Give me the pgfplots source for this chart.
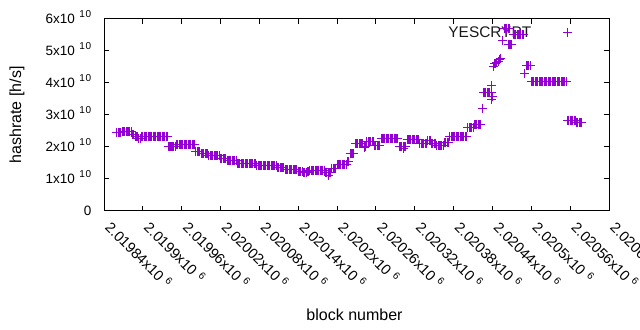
\documentclass[border=0pt]{standalone}
\usepackage{fontspec}
\setmainfont{Liberation Sans}
\usepackage{pgfplots}
\pgfplotsset{compat=1.18}
\definecolor{dv}{RGB}{148,0,211}
\newcommand{\ylab}[1]{\fontsize{13.5bp}{16bp}\selectfont #1x10\hspace{4.5bp}\raisebox{6.3bp}{\fontsize{10bp}{10bp}\selectfont 1\kern0.8bp 0}}
\newcommand{\xlab}[1]{\hspace*{12.5bp}\fontsize{14.5bp}{16bp}\selectfont #1x10\hspace{4.5bp}\raisebox{5bp}{\fontsize{10bp}{10bp}\selectfont 6}}
\tikzset{xl/.style={rotate=-45, anchor=north west, inner sep=0pt}, yl/.style={anchor=base east, inner sep=0pt, xshift=-12.5bp, yshift=-4.85bp}}
\begin{document}
\begin{tikzpicture}
\useasboundingbox (0,0) rectangle (640bp,330bp);
\begin{axis}[
  at={(104bp,119bp)}, anchor=south west,
  scale only axis, width=505bp, height=192bp,
  xmin=840, xmax=1620, ymin=0, ymax=6e10,
  xtick={840,900,...,1620},
  ytick={0,1e10,2e10,3e10,4e10,5e10,6e10},
  xticklabel=\empty, yticklabel=\empty,
  scaled y ticks=false, scaled x ticks=false,
  tick align=inside, tick pos=both,
  major tick length=5bp,
  axis line style={line width=1bp, black},
  every tick/.style={line width=1bp, black},
  xlabel={block number}, ylabel={hashrate [h/s]},
  every axis x label/.style={at={(axis description cs:0.5,0)}, yshift=-104bp, xshift=-2bp, anchor=center, font=\fontsize{16bp}{18bp}\selectfont},
  every axis y label/.style={at={(axis description cs:0,0.5)}, xshift=-87bp, rotate=90, anchor=center, font=\fontsize{16bp}{18bp}\selectfont},
  clip=false,
]
\node[font=\fontsize{15.4bp}{18bp}\selectfont, anchor=center, text=black!90] at (axis description cs:0.764,0.932) {YESCRYPT};
\node[yl] at (axis cs:840,0) {\fontsize{13.5bp}{16bp}\selectfont 0};
\node[yl] at (axis cs:840,1e10) {\ylab{1}};
\node[yl] at (axis cs:840,2e10) {\ylab{2}};
\node[yl] at (axis cs:840,3e10) {\ylab{3}};
\node[yl] at (axis cs:840,4e10) {\ylab{4}};
\node[yl] at (axis cs:840,5e10) {\ylab{5}};
\node[yl] at (axis cs:840,6e10) {\ylab{6}};
\node[xl] at (axis cs:840,0) {\xlab{2.01984}};
\node[xl] at (axis cs:900,0) {\xlab{2.0199}};
\node[xl] at (axis cs:960,0) {\xlab{2.01996}};
\node[xl] at (axis cs:1020,0) {\xlab{2.02002}};
\node[xl] at (axis cs:1080,0) {\xlab{2.02008}};
\node[xl] at (axis cs:1140,0) {\xlab{2.02014}};
\node[xl] at (axis cs:1200,0) {\xlab{2.0202}};
\node[xl] at (axis cs:1260,0) {\xlab{2.02026}};
\node[xl] at (axis cs:1320,0) {\xlab{2.02032}};
\node[xl] at (axis cs:1380,0) {\xlab{2.02038}};
\node[xl] at (axis cs:1440,0) {\xlab{2.02044}};
\node[xl] at (axis cs:1500,0) {\xlab{2.0205}};
\node[xl] at (axis cs:1560,0) {\xlab{2.02056}};
\node[xl] at (axis cs:1620,0) {\xlab{2.02062}};
\addplot[only marks, mark=+, mark size=4.5bp, color=dv, mark options={line width=1bp}] table[row sep=\\] {
x y\\
860 2.46e10\\ 862 2.46e10\\ 864 2.46e10\\ 866 2.46e10\\
868 2.49e10\\ 870 2.49e10\\ 872 2.49e10\\ 874 2.49e10\\ 876 2.49e10\\ 878 2.49e10\\ 880 2.49e10\\ 882 2.49e10\\
884 2.38e10\\ 886 2.38e10\\
888 2.34e10\\ 890 2.34e10\\ 892 2.34e10\\
894 2.26e10\\ 896 2.26e10\\
898 2.34e10\\ 900 2.34e10\\ 902 2.34e10\\ 904 2.34e10\\ 906 2.34e10\\ 908 2.34e10\\ 910 2.34e10\\ 912 2.34e10\\ 914 2.34e10\\ 916 2.34e10\\ 918 2.34e10\\ 920 2.34e10\\ 922 2.34e10\\ 924 2.34e10\\ 926 2.34e10\\ 928 2.34e10\\ 930 2.34e10\\ 932 2.34e10\\ 934 2.34e10\\ 936 2.34e10\\ 938 2.34e10\\
941 2.03e10\\
940 2.01e10\\ 942 2.01e10\\ 944 2.01e10\\ 946 2.01e10\\ 948 2.01e10\\ 950 2.01e10\\
952 2.08e10\\ 954 2.08e10\\ 956 2.08e10\\ 958 2.08e10\\ 960 2.08e10\\ 962 2.08e10\\ 964 2.08e10\\ 966 2.08e10\\ 968 2.08e10\\ 970 2.08e10\\ 972 2.08e10\\ 974 2.08e10\\ 976 2.08e10\\ 978 2.08e10\\ 980 2.08e10\\
982 1.86e10\\ 984 1.86e10\\ 986 1.86e10\\ 988 1.86e10\\
990 1.80e10\\ 992 1.80e10\\ 994 1.80e10\\ 996 1.80e10\\ 998 1.80e10\\ 1000 1.80e10\\
1002 1.72e10\\ 1004 1.72e10\\ 1006 1.72e10\\ 1008 1.72e10\\ 1010 1.72e10\\ 1012 1.72e10\\ 1014 1.72e10\\ 1016 1.72e10\\ 1018 1.72e10\\
1020 1.64e10\\ 1022 1.64e10\\ 1024 1.64e10\\ 1026 1.64e10\\ 1028 1.64e10\\
1030 1.57e10\\ 1032 1.57e10\\ 1034 1.57e10\\ 1036 1.57e10\\ 1038 1.57e10\\ 1040 1.57e10\\ 1042 1.57e10\\ 1044 1.57e10\\
1046 1.47e10\\ 1048 1.47e10\\ 1050 1.47e10\\ 1052 1.47e10\\ 1054 1.47e10\\ 1056 1.47e10\\ 1058 1.47e10\\ 1060 1.47e10\\ 1062 1.47e10\\ 1064 1.47e10\\ 1066 1.47e10\\ 1068 1.47e10\\ 1070 1.47e10\\ 1072 1.47e10\\ 1074 1.47e10\\
1076 1.41e10\\ 1078 1.41e10\\ 1080 1.41e10\\ 1082 1.41e10\\ 1084 1.41e10\\ 1086 1.41e10\\ 1088 1.41e10\\ 1090 1.41e10\\ 1092 1.41e10\\ 1094 1.41e10\\ 1096 1.41e10\\ 1098 1.41e10\\ 1100 1.41e10\\ 1102 1.41e10\\ 1104 1.41e10\\ 1106 1.41e10\\
1108 1.35e10\\ 1110 1.35e10\\ 1112 1.35e10\\ 1114 1.35e10\\ 1116 1.35e10\\ 1118 1.35e10\\
1120 1.30e10\\ 1122 1.30e10\\ 1124 1.30e10\\ 1126 1.30e10\\ 1128 1.30e10\\ 1130 1.30e10\\ 1132 1.30e10\\ 1134 1.30e10\\ 1136 1.30e10\\ 1138 1.30e10\\
1140 1.23e10\\ 1142 1.23e10\\ 1144 1.23e10\\ 1146 1.23e10\\ 1148 1.20e10\\ 1150 1.20e10\\ 1152 1.20e10\\ 1154 1.23e10\\ 1156 1.23e10\\
1158 1.28e10\\ 1160 1.28e10\\ 1162 1.28e10\\ 1164 1.28e10\\ 1166 1.28e10\\ 1168 1.28e10\\ 1170 1.28e10\\ 1172 1.28e10\\ 1174 1.28e10\\ 1176 1.28e10\\ 1178 1.28e10\\ 1180 1.28e10\\
1182 1.19e10\\ 1184 1.19e10\\ 1186 1.19e10\\ 1188 1.19e10\\ 1190 1.19e10\\ 1187 1.10e10\\
1192 1.33e10\\ 1194 1.33e10\\ 1196 1.33e10\\ 1198 1.33e10\\
1200 1.44e10\\ 1202 1.44e10\\ 1204 1.44e10\\ 1206 1.44e10\\ 1208 1.44e10\\ 1210 1.44e10\\ 1212 1.44e10\\ 1214 1.44e10\\
1216 1.54e10\\ 1218 1.54e10\\
1220 1.80e10\\ 1222 1.80e10\\ 1224 1.80e10\\ 1226 1.80e10\\
1228 2.10e10\\ 1230 2.10e10\\ 1232 2.10e10\\ 1234 2.10e10\\ 1236 2.10e10\\ 1238 2.10e10\\ 1240 2.10e10\\
1242 2.03e10\\ 1244 2.03e10\\ 1243 1.97e10\\
1246 2.17e10\\ 1248 2.17e10\\ 1250 2.17e10\\ 1252 2.17e10\\ 1254 2.17e10\\ 1256 2.17e10\\
1258 2.06e10\\ 1260 2.06e10\\ 1262 2.06e10\\ 1264 2.06e10\\ 1266 2.06e10\\
1268 2.27e10\\ 1270 2.27e10\\ 1272 2.27e10\\ 1274 2.27e10\\ 1276 2.27e10\\ 1278 2.27e10\\ 1280 2.27e10\\ 1282 2.27e10\\ 1284 2.27e10\\ 1286 2.27e10\\ 1288 2.27e10\\ 1290 2.27e10\\ 1292 2.27e10\\ 1294 2.27e10\\
1296 2.01e10\\ 1298 2.01e10\\ 1300 2.01e10\\ 1302 2.01e10\\ 1304 2.01e10\\ 1306 2.01e10\\ 1302 1.96e10\\
1308 2.22e10\\ 1310 2.22e10\\ 1312 2.22e10\\ 1314 2.22e10\\ 1316 2.22e10\\ 1318 2.22e10\\ 1320 2.22e10\\ 1322 2.22e10\\ 1324 2.22e10\\ 1326 2.22e10\\
1328 2.12e10\\ 1330 2.12e10\\ 1332 2.12e10\\ 1334 2.12e10\\ 1336 2.12e10\\ 1338 2.12e10\\
1340 2.20e10\\ 1342 2.20e10\\ 1344 2.20e10\\
1346 2.12e10\\ 1348 2.12e10\\ 1350 2.12e10\\ 1352 2.12e10\\
1354 2.05e10\\ 1356 2.05e10\\ 1358 2.05e10\\ 1360 2.05e10\\ 1362 2.05e10\\ 1364 2.05e10\\
1366 2.15e10\\ 1368 2.15e10\\ 1370 2.15e10\\ 1372 2.15e10\\
1374 2.32e10\\ 1376 2.32e10\\ 1378 2.32e10\\ 1380 2.32e10\\ 1382 2.32e10\\ 1384 2.32e10\\ 1386 2.32e10\\ 1388 2.32e10\\ 1390 2.32e10\\ 1392 2.32e10\\ 1394 2.32e10\\ 1396 2.32e10\\ 1398 2.32e10\\ 1400 2.32e10\\
1402 2.60e10\\ 1404 2.60e10\\ 1406 2.60e10\\ 1408 2.60e10\\ 1410 2.60e10\\
1412 2.69e10\\ 1414 2.69e10\\ 1416 2.69e10\\ 1418 2.69e10\\ 1420 2.69e10\\ 1422 2.69e10\\
1424 3.21e10\\
1426 3.71e10\\ 1428 3.71e10\\ 1430 3.71e10\\ 1432 3.71e10\\ 1434 3.71e10\\ 1436 3.71e10\\ 1438 3.71e10\\
1439 3.92e10\\ 1439 3.47e10\\ 1440 3.57e10\\
1441 4.51e10\\
1443 4.60e10\\ 1445 4.62e10\\ 1447 4.65e10\\ 1449 4.68e10\\ 1451 4.72e10\\ 1453 4.75e10\\
1456 5.34e10\\
1458 5.71e10\\ 1460 5.71e10\\ 1462 5.71e10\\ 1464 5.71e10\\ 1466 5.71e10\\
1464 5.20e10\\ 1466 5.20e10\\ 1468 5.20e10\\ 1470 5.20e10\\
1472 5.50e10\\ 1474 5.50e10\\ 1476 5.50e10\\ 1478 5.50e10\\ 1480 5.50e10\\ 1482 5.50e10\\ 1484 5.50e10\\ 1486 5.50e10\\ 1488 5.50e10\\
1490 4.30e10\\
1492 4.55e10\\ 1494 4.55e10\\ 1496 4.55e10\\ 1498 4.55e10\\
1500 4.05e10\\ 1502 4.05e10\\ 1504 4.05e10\\ 1506 4.05e10\\ 1508 4.05e10\\ 1510 4.05e10\\ 1512 4.05e10\\ 1514 4.05e10\\ 1516 4.05e10\\ 1518 4.05e10\\ 1520 4.05e10\\ 1522 4.05e10\\ 1524 4.05e10\\ 1526 4.05e10\\ 1528 4.05e10\\ 1530 4.05e10\\ 1532 4.05e10\\ 1534 4.05e10\\ 1536 4.05e10\\ 1538 4.05e10\\ 1540 4.05e10\\ 1542 4.05e10\\ 1544 4.05e10\\ 1546 4.05e10\\ 1548 4.05e10\\ 1550 4.05e10\\ 1552 4.05e10\\ 1554 4.05e10\\
1556 5.58e10\\
1556 2.84e10\\ 1558 2.84e10\\ 1560 2.84e10\\ 1562 2.84e10\\ 1564 2.84e10\\ 1566 2.84e10\\ 1568 2.84e10\\
1570 2.76e10\\ 1572 2.76e10\\ 1574 2.76e10\\ 1576 2.76e10\\ 1578 2.76e10\\
};
\end{axis}
\end{tikzpicture}
\end{document}
